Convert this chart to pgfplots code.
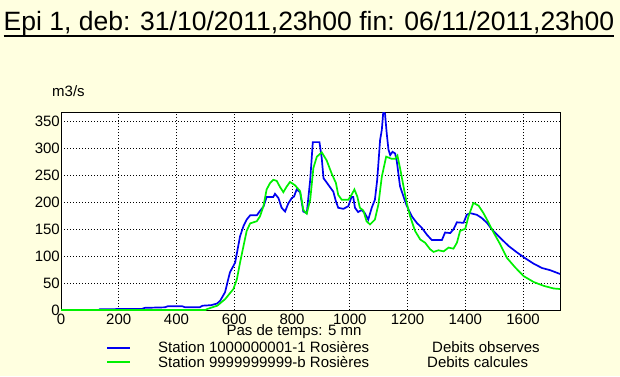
\documentclass[border=0pt]{standalone}
\usepackage{fontspec}
\setmainfont{Liberation Sans}
\usepackage{pgfplots}
\pgfplotsset{compat=1.18}
\definecolor{bgy}{RGB}{255,255,224}
\definecolor{obsblue}{RGB}{0,0,240}
\definecolor{calgreen}{RGB}{0,240,0}
\pgfplotstableread{
x y
0 0
130 0
135 1.5
280 2
290 4
360 5
370 7
420 7
430 5
480 5
490 8
520 9
540 12
551 17
568 33
585 70
603 88
620 137
632 156
643 168
655 176
678 176
689 184
701 192
712 210
735 210
741 216
753 208
764 190
776 183
787 198
799 208
807 211
816 224
828 219
839 183
851 180
863 242
872 312
895 312
903 282
909 245
920 237
932 228
943 220
952 202
960 190
978 188
995 193
1006 210
1012 210
1018 190
1029 182
1041 186
1052 180
1064 168
1076 190
1087 205
1095 242
1105 316
1111 335
1116 368
1122 365
1128 328
1134 298
1140 288
1148 294
1157 291
1163 276
1174 230
1186 211
1197 194
1215 174
1232 162
1249 153
1267 140
1284 130
1319 130
1330 144
1348 143
1359 150
1371 163
1394 162
1405 177
1417 180
1440 177
1457 171
1475 162
1492 150
1521 134
1550 119
1579 107
1608 96
1637 86
1666 78
1694 74
1728 67
}\observed
\pgfplotstableread{
x y
0 0
500 0
507 2
541 8
568 20
597 39
609 57
620 88
632 119
643 147
655 161
678 165
689 174
701 193
712 224
724 236
735 242
747 240
758 229
770 219
781 229
793 238
810 232
828 221
839 186
851 179
863 205
874 264
886 285
903 293
920 278
937 254
952 236
960 214
972 205
995 205
1006 214
1016 224
1026 211
1035 190
1047 185
1058 165
1070 159
1087 168
1099 196
1111 248
1126 285
1145 281
1157 281
1165 287
1174 264
1186 230
1197 199
1209 174
1226 147
1244 131
1261 125
1278 113
1290 108
1307 111
1325 109
1342 116
1359 114
1371 125
1382 147
1400 151
1411 174
1428 199
1446 194
1463 180
1481 162
1498 144
1521 122
1544 97
1573 79
1602 63
1637 52
1671 45
1706 40
1728 39
}\calculated
\begin{document}
\begin{tikzpicture}
\fill[bgy] (0pt,0pt) rectangle (620pt,376pt);
\node[anchor=base, font=\fontsize{26.5}{30}\selectfont, inner sep=0pt] (title) at (309pt,345.5pt) {Epi 1, deb: 31/10/2011,23h00 fin: 06/11/2011,23h00};
\draw[line width=1.6pt] (title.west |- 0,340pt) -- (title.east |- 0,340pt);
\begin{axis}[
  at={(61pt,66pt)}, anchor=south west,
  scale only axis, width=499pt, height=198pt,
  xmin=0, xmax=1728, ymin=0, ymax=368,
  xtick={0,200,...,1600}, ytick={0,50,...,350},
  grid=major,
  major grid style={black, line width=0.8pt, dash pattern=on 0.9pt off 2.1pt},
  axis line style={black, line width=1pt},
  major tick length=0pt,
  tick label style={font=\fontsize{15}{15}\selectfont, inner sep=0pt},
  xticklabel shift=3.5pt, yticklabel shift=1pt,
  /pgf/number format/assume math mode=true,
  /pgf/number format/set thousands separator={},
  axis background/.style={fill=white},
]
\addplot[obsblue, line width=1.7pt, sharp plot] table[x=x,y=y] {\observed};
\addplot[calgreen, line width=1.7pt, sharp plot] table[x=x,y=y] {\calculated};
\end{axis}
\node[anchor=base west, font=\fontsize{15}{15}\selectfont, inner sep=0pt] at (52pt,279.5pt) {m3/s};
\node[anchor=base, font=\fontsize{15}{15}\selectfont, inner sep=0pt] at (294pt,41pt) {Pas de temps: 5 mn};
\draw[obsblue, line width=1.7pt] (107pt,28.3pt) -- (130pt,28.3pt);
\draw[calgreen, line width=1.7pt] (107pt,14pt) -- (130pt,14pt);
\node[anchor=base west, font=\fontsize{15}{15}\selectfont, inner sep=0pt] at (158pt,23.5pt) {Station 1000000001-1 Rosières};
\node[anchor=base west, font=\fontsize{15}{15}\selectfont, inner sep=0pt] at (158pt,9pt) {Station 9999999999-b Rosières};
\node[anchor=base west, font=\fontsize{15}{15}\selectfont, inner sep=0pt] at (432pt,23.5pt) {Debits observes};
\node[anchor=base west, font=\fontsize{15}{15}\selectfont, inner sep=0pt] at (427pt,9pt) {Debits calcules};
\end{tikzpicture}
\end{document}
